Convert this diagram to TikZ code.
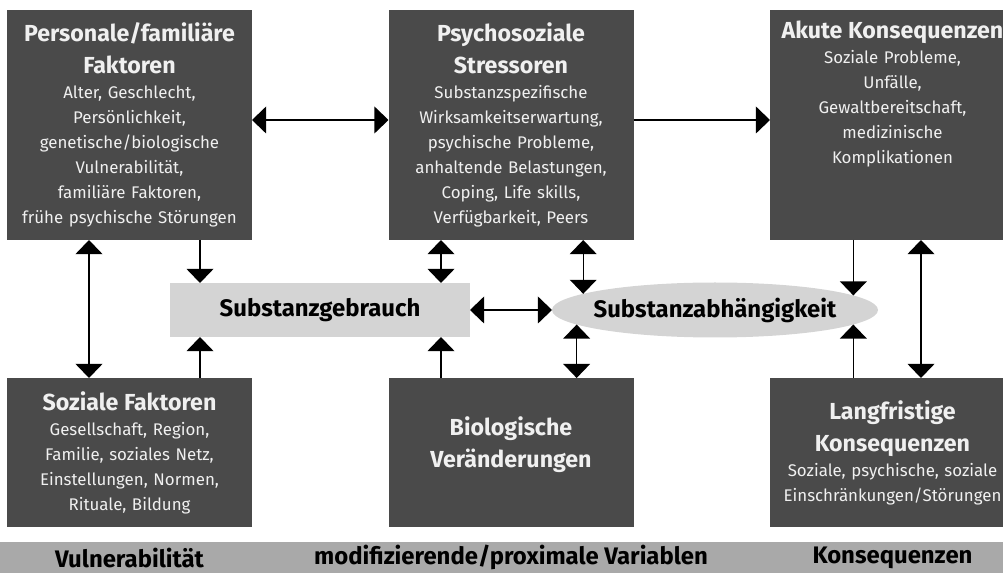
\documentclass[tikz,border=0pt]{standalone}
\usepackage{fontspec}
\setmainfont{Fira Sans}
\usetikzlibrary{arrows.meta,positioning,shapes.geometric}

\definecolor{boxgray}{HTML}{4A4A4A}
\definecolor{usegray}{HTML}{D4D4D4}
\definecolor{bargray}{HTML}{A9A9A9}
\newcommand{\ttlfont}{\bfseries\fontsize{16.5}{22.8}\selectfont}
\newcommand{\midfont}{\bfseries\fontsize{17}{20}\selectfont}
\newcommand{\txtfont}{\fontsize{12}{17.8}\selectfont}

\begin{document}
\begin{tikzpicture}[
  >={Triangle[width=19pt,length=10pt]},
  box/.style={fill=boxgray,text=white!94!black,minimum width=6.125cm,
              text width=5.9cm,align=center,inner sep=0pt,outer sep=0pt,
              font=\txtfont},
  topbox/.style={box,minimum height=5.75cm},
  lowbox/.style={box,minimum height=3.725cm},
  wire/.style={draw,line width=1pt},
  barlabel/.style={font=\midfont,text=black},
]

\useasboundingbox (0,0) rectangle (25.075,-14.325);
\clip (0,0) rectangle (25.075,-14.325);

%% =====================================================
%%  TOP ROW
%% =====================================================
\node[topbox] (pers) at (3.2375,-3.125)
     {{\ttlfont Personale/familiäre\\Faktoren\par}
      Alter, Geschlecht,\\Persönlichkeit,\\genetische/biologische\\
      Vulnerabilität,\\familiäre Faktoren,\\frühe psychische Störungen};

\node[topbox] (psy) at (12.775,-3.125)
     {{\ttlfont Psychosoziale\\Stressoren\par}
      Substanzspezifische\\Wirksamkeitserwartung,\\psychische Probleme,\\
      anhaltende Belastungen,\\Coping, Life skills,\\Verfügbarkeit, Peers};

\node[topbox] (akut) at (22.3125,-3.125)
     {{\ttlfont Akute Konsequenzen\par}
      Soziale Probleme,\\Unfälle,\\Gewaltbereitschaft,\\medizinische\\
      Komplikationen\par\vspace*{1.55cm}};

%% =====================================================
%%  MIDDLE ROW
%% =====================================================
\node[fill=usegray,minimum width=7.5cm,minimum height=1.35cm,
      inner sep=0pt,outer sep=0pt,font=\midfont] (gebr) at (8.0,-7.75)
     {Substanzgebrauch};

\node[ellipse,fill=usegray,minimum width=8.15cm,minimum height=1.375cm,
      inner sep=0pt,outer sep=0pt,font=\midfont] (abh) at (17.875,-7.75)
     {\makebox[0pt]{Substanzabhängigkeit}};

%% =====================================================
%%  BOTTOM ROW
%% =====================================================
\node[lowbox] (soz) at (3.2375,-11.3125)
     {{\ttlfont Soziale Faktoren\par}
      Gesellschaft, Region,\\Familie, soziales Netz,\\
      Einstellungen, Normen,\\Rituale, Bildung};

\node[lowbox] (bio) at (12.775,-11.3125)
     {{\ttlfont Biologische\\Veränderungen\par}\vspace*{0.4cm}};

\node[lowbox] (lang) at (22.3125,-11.3125)
     {{\ttlfont Langfristige\\Konsequenzen\par}
      Soziale, psychische, soziale\\Einschränkungen/Störungen};

% --- bar with column headings ---
\node[fill=bargray,minimum width=25.075cm,minimum height=0.775cm,
      inner sep=0pt,anchor=north west] (bar) at (0,-13.55) {};
\node[barlabel] at (soz |- bar) {Vulnerabilität};
\node[barlabel] at (psy |- bar) {modifizierende/proximale Variablen};
\node[barlabel] at (lang |- bar) {Konsequenzen};

%% =====================================================
%%  CONNECTORS
%% =====================================================
\coordinate (x1) at (2.225,0);
\coordinate (x2) at (5.0,0);
\coordinate (x3) at (11.025,0);
\coordinate (x6) at (23.025,0);
\coordinate (abhNW) at (abh.173.79);
\coordinate (abhSW) at (abh.186.21);
\coordinate (abhNE) at (abh.6.67);
\coordinate (abhSE) at (abh.-6.67);

\draw[wire,<->] ([yshift=0.125cm]pers.east) -- ([yshift=0.125cm]psy.west);
\draw[wire,->]  ([yshift=0.125cm]psy.east) -- ([yshift=0.125cm]akut.west);

\draw[wire,<->] (pers.south -| x1) -- (soz.north -| x1);
\draw[wire,->]  (pers.south -| x2) -- (gebr.north -| x2);
\draw[wire,->]  (soz.north -| x2) -- (gebr.south -| x2);

\draw[wire,<->] (psy.south -| x3) -- (gebr.north -| x3);
\draw[wire,->]  (bio.north -| x3) -- (gebr.south -| x3);
\draw[wire,<->] (gebr.east) -- (abh.west);

\draw[wire,<->] (psy.south -| abhNW) -- (abhNW);
\draw[wire,<->] (abhSW) -- (bio.north -| abhSW);

\draw[wire,->]  (akut.south -| abhNE) -- (abhNE);
\draw[wire,->]  (lang.north -| abhSE) -- (abhSE);
\draw[wire,<->] (akut.south -| x6) -- (lang.north -| x6);

\end{tikzpicture}
\end{document}
